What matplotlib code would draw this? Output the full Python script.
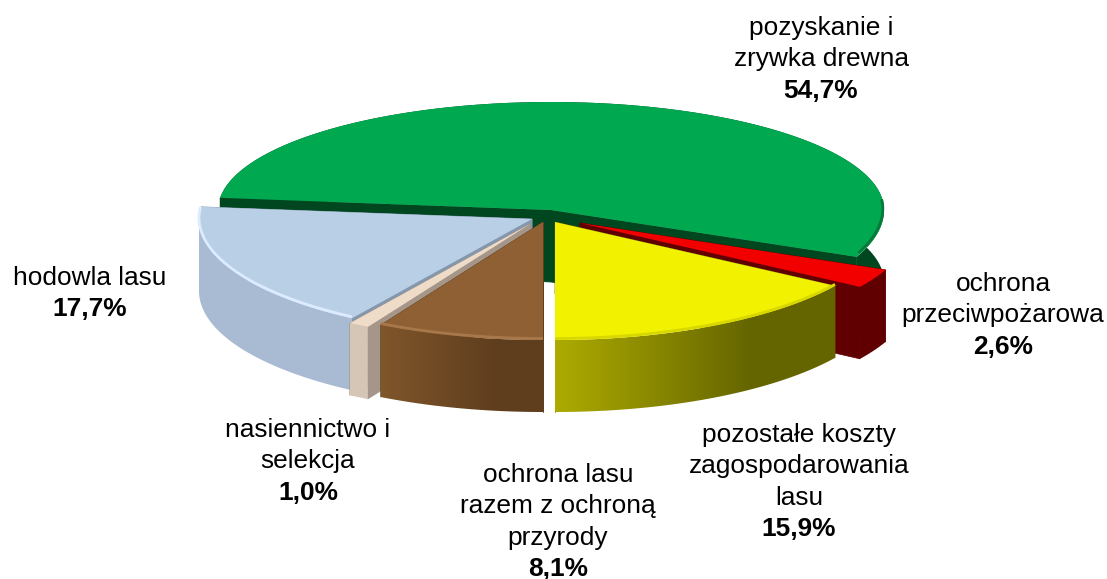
import numpy as np
import matplotlib
matplotlib.use('Agg')
import matplotlib.pyplot as plt
from matplotlib.colors import to_rgb
from matplotlib.patches import Polygon

plt.rcParams['font.family'] = ['Liberation Sans', 'DejaVu Sans']

# dane, kolejnosc zgodnie z ruchem wskazowek od godziny 6
names = ['ochrona lasu razem z ochroną przyrody', 'nasiennictwo i selekcja', 'hodowla lasu',
         'pozyskanie i zrywka drewna', 'ochrona przeciwpożarowa',
         'pozostałe koszty zagospodarowania lasu']
values = [8.1, 1.0, 17.7, 54.7, 2.6, 15.9]
value_labels = ['8,1%', '1,0%', '17,7%', '54,7%', '2,6%', '15,9%']

# wyglad
top_colors = ['#8f6033', '#eedcc8', '#b9cfe5', '#00a84f', '#f20000', '#f2f200']
wall_left = ['#80562b', '#d5c6b6', '#a9bbd3', '#00461f', '#600000', '#adab00']
wall_right = ['#5f3e1e', '#d5c6b6', '#a9bbd3', '#00461f', '#600000', '#656500']
cut_colors = ['#5f3e1e', '#a59689', '#8497ad', '#00461f', '#600000', '#656500']
rim_colors = ['#a8774a', None, '#dcebff', '#067a3a', None, '#d8d800']
explode = [(-8, 12), (-21, 14), (-19, 9), (0, 0), (29, 13), (4, 12)]
center = (551, 210)
rx, ry_back, ry_front = 333, 108, 118
depth = 72

label_pos = [(558, 475), (308, 430), (90, 278), (821, 28), (1003, 284), (799, 435)]
label_lines = [['ochrona lasu', 'razem z ochroną', 'przyrody'],
               ['nasiennictwo i', 'selekcja'],
               ['hodowla lasu'],
               ['pozyskanie i', 'zrywka drewna'],
               ['ochrona', 'przeciwpożarowa'],
               ['pozostałe koszty', 'zagospodarowania', 'lasu']]


def rim(t, cx, cy):
    r = np.radians(t)
    ry = np.where(np.cos(r) > 0, ry_back, ry_front)
    return cx + rx * np.sin(r), cy - ry * np.cos(r)


def gradient_wall(xs, ys, left, right, z):
    # sciana boczna: gradient w poziomie przyciety do ksztaltu sciany
    poly = Polygon(np.c_[np.r_[xs, xs[::-1]], np.r_[ys, ys[::-1] + depth]], closed=True,
                   fc='none', ec='none', transform=ax.transData)
    ax.add_patch(poly)
    n = 256
    f = np.clip(np.linspace(0, 1, n) / 0.7, 0, 1)[None, :, None]
    img = np.array(to_rgb(left))[None, None, :] * (1 - f) + np.array(to_rgb(right))[None, None, :] * f
    im = ax.imshow(img, extent=(xs.min(), xs.max(), ys.max() + depth, ys.min()),
                   aspect='auto', interpolation='bilinear', zorder=z)
    im.set_clip_path(poly)


fig = plt.figure(figsize=(11.07, 5.79), dpi=100)
ax = fig.add_axes([0, 0, 1, 1])
ax.axis('off')

# katy wycinkow
scale = 360 / sum(values)
edges = 180 + np.cumsum([0] + values) * scale

# zielony z tylu, potem czerwony, reszta z przodu
for n_draw, i in enumerate([3, 4, 2, 1, 0, 5]):
    z = 10 * (n_draw + 1)
    t0, t1 = edges[i], edges[i + 1]
    cx, cy = center[0] + explode[i][0], center[1] + explode[i][1]
    ts = np.linspace(t0, t1, 300)
    xs, ys = rim(ts, cx, cy)

    # sciany przekroju
    for end in [t0, t1]:
        ex, ey = rim(end, cx, cy)
        ax.fill([cx, ex, ex, cx], [cy, ey, ey + depth, cy + depth], color=cut_colors[i],
                lw=0.5, zorder=z)

    # sciana boczna
    if i == 3:
        vis = np.ones(len(ts), dtype=bool)
    else:
        vis = np.cos(np.radians(ts)) < 0.02
    gradient_wall(xs[vis], ys[vis], wall_left[i], wall_right[i], z + 1)

    # wierzch
    ax.fill(np.r_[cx, xs], np.r_[cy, ys], color=top_colors[i], lw=0, zorder=z + 2)

    # krawedz wierzchu
    if rim_colors[i] is None:
        continue
    if i == 3:
        edge = (ts > 445) & (ts < t1 - 1)
    else:
        edge = np.cos(np.radians(ts)) < 0.1
    ax.plot(xs[edge] - (1.2 if i == 3 else 0), ys[edge] - 1.5, color=rim_colors[i], lw=2.0,
            solid_capstyle='butt', zorder=z + 3)

ax.set_xlim(0, 1107)
ax.set_ylim(579, 0)

# opisy
for i in range(len(values)):
    x, y = label_pos[i]
    for line in label_lines[i]:
        ax.text(x, y, line, ha='center', va='center', fontsize=18.9, color='black', zorder=100)
        y += 31.3
    ax.text(x, y, value_labels[i], ha='center', va='center', fontsize=18.9,
            fontweight='bold', color='black', zorder=100)

fig.savefig('out.png', dpi=100)
